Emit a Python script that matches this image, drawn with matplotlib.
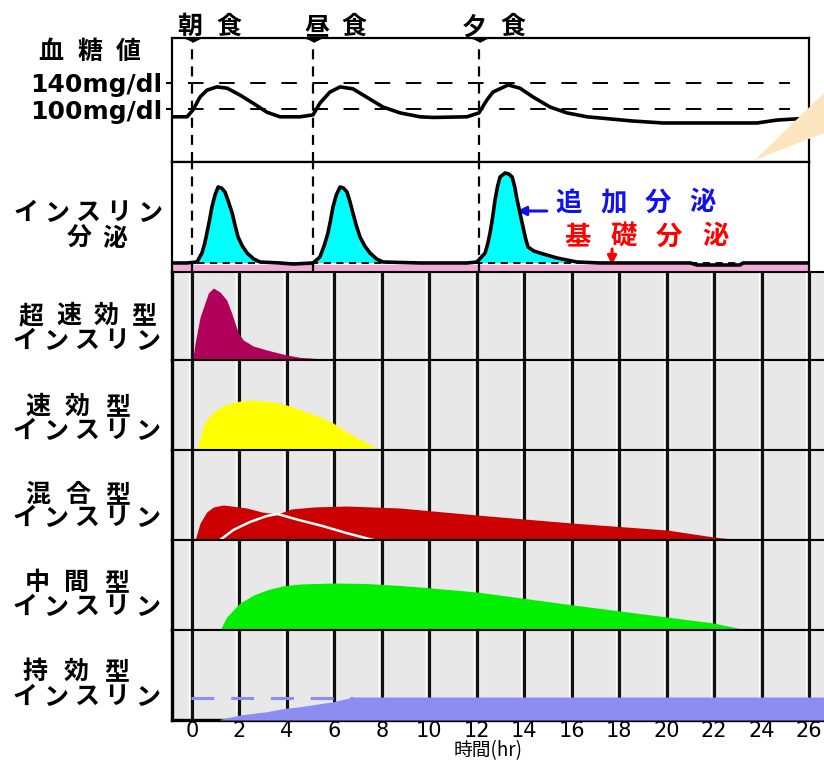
import numpy as np
import matplotlib
matplotlib.use("Agg")
import matplotlib.pyplot as plt
from matplotlib.patches import Polygon

# ---------------- data ----------------
meal_times = [0.0, 5.1, 12.1]
meal_labels = ["朝食", "昼食", "夕食"]
ref_levels = [100, 140]
ref_labels = ["100mg/dl", "140mg/dl"]

glu_x = [-0.84, -0.21, 0.04, 0.34, 0.63, 1.05, 1.48, 2.02, 2.57, 3.16, 3.71, 4.55,
         5.10, 5.39, 5.81, 6.24, 6.78, 7.37, 8.05, 8.77, 9.61, 10.16, 11.59, 12.09,
         12.43, 12.68, 13.32, 13.82, 14.37, 15.09, 15.80, 16.65, 18.58, 19.85, 23.81,
         24.65, 26.0]
glu_y = [88, 88, 98.5, 118.5, 129, 134, 132, 121.5, 109, 95, 88, 88,
         91, 109, 126, 134, 131, 118, 103, 94, 88, 87, 88, 94,
         114, 126, 137, 132, 118.5, 103, 94, 88, 81.5, 78.5, 78.5,
         83, 86]

sec_x = [-0.84, -0.21, 0.21, 0.42, 0.53, 0.63, 0.74, 0.84, 0.97, 1.10, 1.24, 1.39,
         1.54, 1.69, 1.82, 1.94, 2.12, 2.32, 2.60, 2.87,
         3.71, 4.26, 5.10, 5.39, 5.58, 5.73, 5.84, 5.94, 6.08, 6.24, 6.38, 6.53,
         6.66, 6.78, 6.93, 7.08, 7.28, 7.50, 7.78, 8.05,
         9.61, 11.59, 12.01, 12.35, 12.46, 12.56, 12.67, 12.77, 12.88, 12.98, 13.19,
         13.35, 13.49, 13.60, 13.70, 13.83, 13.95, 14.05, 14.16, 14.40, 14.66, 15.38,
         16.22, 17.19, 21.0, 21.28, 23.09, 23.22, 26.0]
sec_y = [9, 9, 10, 19, 28, 39, 52, 65, 77, 85, 84, 80,
         70, 59, 46, 35, 26, 19, 13, 10,
         9, 8, 9, 15, 27, 39, 52, 65, 77, 85, 84, 80,
         70, 59, 46, 35, 26, 19, 13, 10,
         9, 9, 10, 19, 28, 39, 55, 72, 86, 95, 99,
         98, 95, 85, 72, 58, 45, 34, 25, 21, 19, 14,
         10, 9, 9, 7, 7, 9, 9]
basal_level = 9

ultra_x = [0.03, 0.13, 0.34, 0.69, 0.90, 1.18, 1.46, 1.67, 1.81, 1.95, 2.16, 2.58,
           3.15, 3.99, 4.55, 5.68, 5.82]
ultra_y = [0, 17, 43, 67, 72, 68, 60, 47, 37, 27, 20, 14, 10, 5, 2.7, 0.7, 0]

rapid_x = [0.20, 0.34, 0.55, 0.90, 1.46, 2.02, 2.58, 3.43, 3.99, 4.83, 5.39, 5.95,
           6.52, 7.22, 7.92]
rapid_y = [0, 13, 28, 38, 46, 49, 50, 48, 45, 38, 33, 27, 18, 9, 0]

mix_fast_x = [0.13, 0.34, 0.62, 0.90, 1.32, 2.31, 2.94, 3.60, 4.5, 5.5, 6.5, 7.64]
mix_fast_y = [0, 17, 28, 33, 35, 32, 28, 26, 20, 14, 7, 0]
mix_slow_x = [1.18, 1.74, 2.44, 3.15, 3.60, 4.18, 5.10, 6.50, 8.76, 12.0, 16.0, 20.0,
              21.9, 23.09]
mix_slow_y = [0, 10, 18, 24, 26, 31, 33, 34, 32, 25, 17, 10, 3.3, 0]

nph_x = [1.18, 1.46, 2.02, 2.6, 3.15, 3.8, 4.55, 5.95, 7.36, 8.77, 9.61, 12.0, 16.07,
         20.0, 21.97, 23.38]
nph_y = [0, 13, 27, 35, 40, 44, 46, 47, 46.5, 44.5, 43, 38, 25, 13, 7, 0]

long_x = [1.18, 2.02, 3.15, 3.92, 4.55, 5.95, 6.80, 26.63]
long_y = [0.7, 5, 8.3, 11.7, 13.3, 18.3, 23, 23]
long_ref = 22

panel_names = [("超速効型", "インスリン"), ("速効型", "インスリン"), ("混合型", "インスリン"),
               ("中間型", "インスリン"), ("持効型", "インスリン")]
hour_ticks = list(range(0, 27, 2))
hour_labels = [str(h) for h in hour_ticks]

# ---------------- layout ----------------
W, H = 824, 760
fig = plt.figure(figsize=(W / 100, H / 100), dpi=100)
fig.patch.set_facecolor("white")
JP = ["Noto Sans CJK JP", "DejaVu Sans"]


def rect(x0, y0, x1, y1):
    return [x0 / W, 1 - y1 / H, (x1 - x0) / W, (y1 - y0) / H]


def spaced(xl, xr, y, s, **kw):
    n = len(s)
    p = (xr - xl) / n
    for i, ch in enumerate(s):
        fig.text((xl + p * (i + 0.5)) / W, 1 - y / H, ch, ha="center", va="center",
                 family=JP, **kw)


XL = -0.843
XR_TOP = 26.0
XR_GREY = 26.63

# ---- blood glucose ----
ax_g = fig.add_axes(rect(172, 38, 809, 162))
ax_g.set_xlim(XL, XR_TOP)
ax_g.set_ylim(18.5, 209.2)
ax_g.plot(glu_x, glu_y, color="black", lw=2.6, solid_joinstyle="round", zorder=4)
for lv in ref_levels:
    ax_g.plot([-0.17, 25.2], [lv, lv], color="black", lw=1.4, dashes=(8, 8), zorder=2)
ax_g.set_xticks([])
ax_g.set_yticks(ref_levels)
ax_g.set_yticklabels(ref_labels, fontsize=18, fontweight="bold", family="DejaVu Sans")
ax_g.tick_params(axis="y", direction="out", length=4, width=1.5, pad=3)
for sp in ax_g.spines.values():
    sp.set_linewidth(1.6)
tri = [(-1, 0), (1, 0), (0, -0.5)]
ax_g.plot(meal_times, [209.2] * 3, marker=tri, ms=11, color="black", ls="none",
          clip_on=False, zorder=6)
for m in meal_times:
    ax_g.plot([m, m], [18.5, 197], color="black", lw=1.6, dashes=(4.5, 3.2), zorder=3)

# ---- insulin secretion ----
ax_s = fig.add_axes(rect(172, 162, 809, 272))
ax_s.set_xlim(XL, XR_TOP)
ax_s.set_ylim(0, 110)
ax_s.axhspan(0, 7.5, color="#F4A9D8", zorder=1, lw=0)
sx = np.array(sec_x)
sy = np.array(sec_y)
ax_s.fill_between(sx, basal_level, sy, where=sy > basal_level, interpolate=True,
                  color="#00FFFF", lw=0, zorder=2)
ax_s.plot([XL, XR_TOP], [basal_level, basal_level], color="black", lw=1.3,
          dashes=(4, 3), zorder=3)
ax_s.plot(sx, sy, color="black", lw=2.6, solid_joinstyle="round", zorder=4)
for m in meal_times:
    ax_s.plot([m, m], [0, 110], color="black", lw=1.6, dashes=(4.5, 3.2), zorder=3)
ax_s.set_xticks([])
ax_s.set_yticks([])
for k, sp in ax_s.spines.items():
    sp.set_linewidth(1.6)
ax_s.spines["bottom"].set_visible(False)
ax_s.annotate("", xy=(13.70, 61), xytext=(14.95, 61),
              arrowprops=dict(arrowstyle="-|>", color="#1010F0", lw=2.2,
                              mutation_scale=13, shrinkA=0, shrinkB=0))
ax_s.annotate("", xy=(17.70, 7), xytext=(17.70, 23),
              arrowprops=dict(arrowstyle="-|>", color="#FF0000", lw=2.2,
                              mutation_scale=13, shrinkA=0, shrinkB=0))

# ---- insulin type panels ----
panel_px = [(272, 360), (360, 450), (450, 540), (540, 630), (630, 720)]
axes_p = []
for i, (y0, y1) in enumerate(panel_px):
    ax = fig.add_axes(rect(172, y0, 824, y1))
    ax.set_xlim(XL, XR_GREY)
    ax.set_ylim(0, y1 - y0)
    ax.set_facecolor("#E8E8E8")
    ax.vlines(hour_ticks, 0, y1 - y0, color="white", lw=4.6, zorder=1)
    ax.vlines(hour_ticks, 0, y1 - y0, color="#111111", lw=2.4, zorder=1.5)
    ax.set_yticks([])
    ax.spines["right"].set_visible(False)
    ax.spines["left"].set_linewidth(2.4)
    ax.spines["top"].set_linewidth(1.5)
    ax.spines["bottom"].set_linewidth(1.5)
    ax.tick_params(axis="x", length=0)
    if i < 4:
        ax.set_xticks([])
    axes_p.append(ax)

axes_p[0].fill_between(ultra_x, 0, ultra_y, color="#B0005A", lw=0, zorder=3)
axes_p[1].fill_between(rapid_x, 0, rapid_y, color="#FFFF00", lw=0, zorder=3)

xs = np.union1d(mix_fast_x, mix_slow_x)
f = np.interp(xs, mix_fast_x, mix_fast_y, left=0, right=0)
s = np.interp(xs, mix_slow_x, mix_slow_y, left=0, right=0)
axes_p[2].fill_between(xs, 0, np.maximum(f, s), color="#CC0000", lw=0, zorder=3)
mask = (xs >= mix_slow_x[0]) & (xs <= mix_fast_x[-1])
axes_p[2].plot(xs[mask], np.minimum(f, s)[mask], color="white", lw=1.8, zorder=4)

axes_p[3].fill_between(nph_x, 0, nph_y, color="#00F000", lw=0, zorder=3)

axes_p[4].fill_between(long_x, 0, long_y, color="#8C8CF2", lw=0, zorder=3)
axes_p[4].plot([-0.05, 6.8], [long_ref, long_ref], color="#8C8CF2", lw=2.2,
               dashes=(7.5, 5.5), zorder=4)
axes_p[4].spines["bottom"].set_linewidth(2.4)
axes_p[4].set_xticks(hour_ticks)
axes_p[4].set_xticklabels(hour_labels, fontsize=15, family="DejaVu Sans")
axes_p[4].tick_params(axis="x", length=0, pad=1)

# ---------------- texts ----------------
FS = 18
meal_px = [(170, 248), (298, 373), (455, 532)]
for (xl, xr), lab in zip(meal_px, meal_labels):
    spaced(xl, xr, 27, lab, fontsize=FS, fontweight="bold")
spaced(32, 147, 52, "血糖値", fontsize=FS, fontweight="bold")
spaced(10, 165, 213, "インスリン", fontsize=FS, fontweight="bold")
spaced(62, 132, 239, "分泌", fontsize=FS, fontweight="bold")

label_pos = [((12, 163, 316), (10, 163, 341)),
             ((18, 137, 407), (10, 163, 431)),
             ((18, 137, 495), (10, 163, 518)),
             ((17, 137, 583), (10, 163, 607)),
             ((15, 137, 672), (10, 163, 697))]
for (l1, l2), (p1, p2) in zip(panel_names, label_pos):
    spaced(p1[0], p1[1], p1[2], l1, fontsize=FS, fontweight="bold")
    spaced(p2[0], p2[1], p2[2], l2, fontsize=FS, fontweight="bold")

spaced(546, 725, 203, "追加分泌", fontsize=19, fontweight="bold", color="#1010F0")
spaced(555, 738, 237, "基礎分泌", fontsize=19, fontweight="bold", color="#FF0000")

fig.text(488 / W, 1 - 751 / H, "時間(hr)", ha="center", va="center", family=JP,
         fontsize=13.5)

# speech-bubble wedge
wedge = Polygon([(755 / W, 1 - 160 / H), (824 / W, 1 - 93 / H), (824 / W, 1 - 133 / H)],
                closed=True, transform=fig.transFigure, facecolor="#FBE6BE",
                edgecolor="none", zorder=10)
fig.patches.append(wedge)

fig.savefig("out.png", dpi=100)
